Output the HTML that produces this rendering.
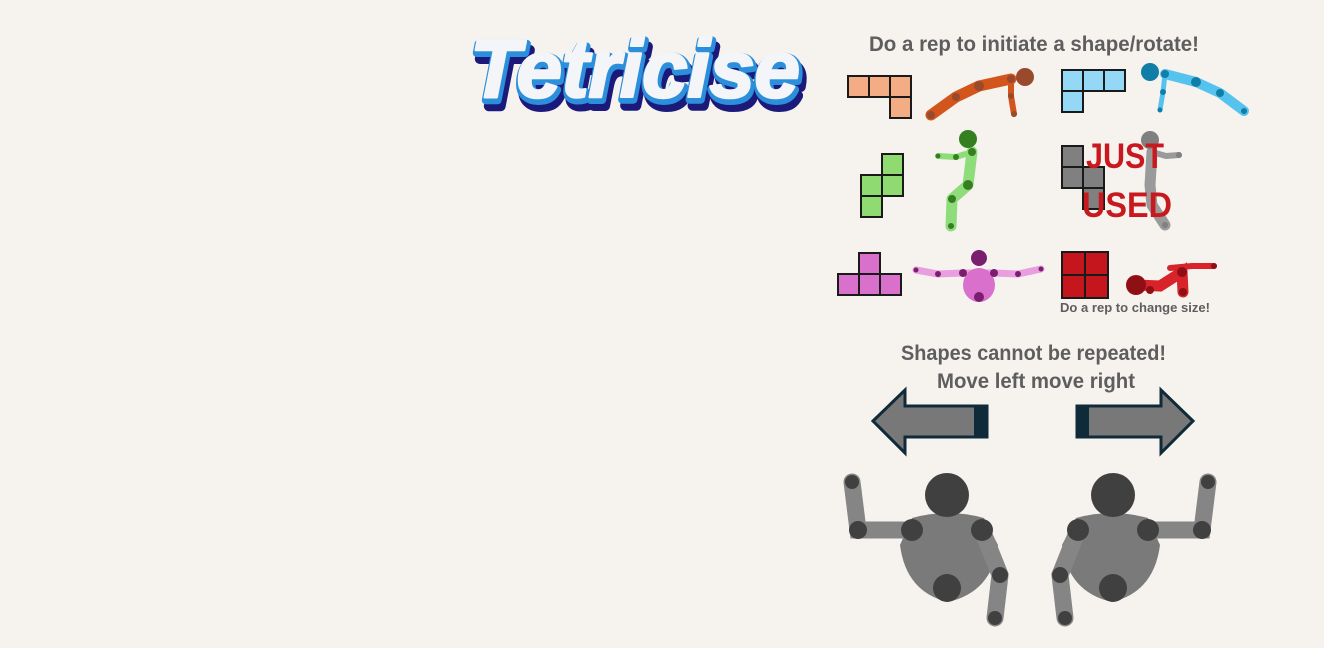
<!DOCTYPE html>
<html><head><meta charset="utf-8"><style>
html,body{margin:0;padding:0;background:#f6f3ef;}
svg{display:block;}
text{font-family:"Liberation Sans",sans-serif;}
</style></head><body>
<svg width="1324" height="648" viewBox="0 0 1324 648">
<rect width="1324" height="648" fill="#f6f3ef"/>
<g font-weight="bold" font-style="italic" font-size="82">
<text x="474" y="106" textLength="330" lengthAdjust="spacing" fill="#1b1a7a" stroke="#1b1a7a" stroke-width="10" stroke-linejoin="round">Tetricise</text>
<text x="471" y="100" textLength="330" lengthAdjust="spacing" fill="#2c8fdc" stroke="#2c8fdc" stroke-width="8" stroke-linejoin="round">Tetricise</text>
<text x="470" y="97" textLength="330" lengthAdjust="spacing" fill="#f4f5f8" stroke="#f4f5f8" stroke-width="2.5" stroke-linejoin="round">Tetricise</text>
</g>
<text x="869" y="51" textLength="330" lengthAdjust="spacingAndGlyphs" font-size="21" font-weight="bold" fill="#5e5e5e">Do a rep to initiate a shape/rotate!</text>
<g stroke="#1a1a1a" stroke-width="2">
<g fill="#f3ac84"><rect x="848" y="76" width="21" height="21"/><rect x="869" y="76" width="21" height="21"/><rect x="890" y="76" width="21" height="21"/><rect x="890" y="97" width="21" height="21"/></g>
<g fill="#95d8f5"><rect x="1062" y="70" width="21" height="21"/><rect x="1083" y="70" width="21" height="21"/><rect x="1104" y="70" width="21" height="21"/><rect x="1062" y="91" width="21" height="21"/></g>
<g fill="#8fdb72"><rect x="882" y="154" width="21" height="21"/><rect x="861" y="175" width="21" height="21"/><rect x="882" y="175" width="21" height="21"/><rect x="861" y="196" width="21" height="21"/></g>
<g fill="#808080"><rect x="1062" y="146" width="21" height="21"/><rect x="1062" y="167" width="21" height="21"/><rect x="1083" y="167" width="21" height="21"/><rect x="1083" y="188" width="21" height="21"/></g>
<g fill="#d970cc"><rect x="859" y="253" width="21" height="21"/><rect x="838" y="274" width="21" height="21"/><rect x="859" y="274" width="21" height="21"/><rect x="880" y="274" width="21" height="21"/></g>
<g fill="#c4161c"><rect x="1062" y="252" width="23" height="23"/><rect x="1085" y="252" width="23" height="23"/><rect x="1062" y="275" width="23" height="23"/><rect x="1085" y="275" width="23" height="23"/></g>
</g>
<g stroke-linecap="round" stroke-linejoin="round" fill="none">
<polyline points="931,115 956,97 979,86 1011,79" stroke="#d2561c" stroke-width="11"/>
<polyline points="1011,79 1011,96 1014,114" stroke="#d2561c" stroke-width="6"/>
<g fill="#9a4a2c" stroke="none"><circle cx="1025" cy="77" r="9"/><circle cx="931" cy="115" r="4"/><circle cx="956" cy="97" r="4"/><circle cx="979" cy="86" r="5"/><circle cx="1011" cy="79" r="4"/><circle cx="1011" cy="96" r="3"/><circle cx="1014" cy="114" r="3"/></g>
</g>
<g stroke-linecap="round" stroke-linejoin="round" fill="none">
<polyline points="1165,74 1196,82 1220,93 1244,111" stroke="#56c3ee" stroke-width="10"/>
<polyline points="1165,74 1163,92 1160,110" stroke="#56c3ee" stroke-width="5"/>
<g fill="#117ea8" stroke="none"><circle cx="1150" cy="72" r="9"/><circle cx="1165" cy="74" r="4"/><circle cx="1196" cy="82" r="5"/><circle cx="1220" cy="93" r="4"/><circle cx="1244" cy="111" r="3"/><circle cx="1163" cy="92" r="3"/><circle cx="1160" cy="110" r="2.5"/></g>
</g>
<g stroke-linecap="round" stroke-linejoin="round" fill="none">
<polyline points="972,152 968,185 952,199 951,226" stroke="#8fdc7a" stroke-width="11"/>
<polyline points="972,152 956,157 938,156" stroke="#8fdc7a" stroke-width="6"/>
<g fill="#357f20" stroke="none"><circle cx="968" cy="139" r="9"/><circle cx="972" cy="152" r="4"/><circle cx="968" cy="185" r="5"/><circle cx="952" cy="199" r="4"/><circle cx="951" cy="226" r="3"/><circle cx="956" cy="157" r="3"/><circle cx="938" cy="156" r="2.5"/></g>
</g>
<g stroke-linecap="round" stroke-linejoin="round" fill="none">
<polyline points="1152,152 1150,185 1152,205 1165,225" stroke="#9a9a9a" stroke-width="11"/>
<polyline points="1152,152 1166,156 1179,155" stroke="#9a9a9a" stroke-width="6"/>
<g fill="#808080" stroke="none"><circle cx="1150" cy="140" r="9"/><circle cx="1179" cy="155" r="3"/><circle cx="1165" cy="225" r="3"/></g>
</g>
<g fill="#c8191f" font-size="35" font-weight="bold">
<text x="1086" y="168" textLength="78" lengthAdjust="spacingAndGlyphs">JUST</text><text x="1082" y="217" textLength="90" lengthAdjust="spacingAndGlyphs">USED</text>
</g>
<g stroke-linecap="round" fill="none">
<polyline points="916,270 938,274 963,273 994,273 1018,274 1041,269" stroke="#e99ee0" stroke-width="7"/>
<ellipse cx="979" cy="285" rx="16" ry="17" fill="#d970cc" stroke="none"/>
<g fill="#7a1f6e" stroke="none"><circle cx="979" cy="258" r="8"/><circle cx="963" cy="273" r="4"/><circle cx="994" cy="273" r="4"/><circle cx="938" cy="274" r="3"/><circle cx="1018" cy="274" r="3"/><circle cx="916" cy="270" r="2.5"/><circle cx="1041" cy="269" r="2.5"/><circle cx="979" cy="297" r="5"/></g>
</g>
<g stroke-linecap="round" fill="none">
<polyline points="1136,285 1160,286 1182,272 1183,292" stroke="#d8232a" stroke-width="11"/>
<polyline points="1170,268 1192,266 1214,266" stroke="#d8232a" stroke-width="6"/>
<g fill="#8f1014" stroke="none"><circle cx="1136" cy="285" r="10"/><circle cx="1150" cy="290" r="4"/><circle cx="1182" cy="272" r="5"/><circle cx="1183" cy="292" r="4"/><circle cx="1214" cy="266" r="3"/></g>
</g>
<text x="1060" y="312" textLength="150" lengthAdjust="spacingAndGlyphs" font-size="13" font-weight="bold" fill="#5e5e5e">Do a rep to change size!</text>
<text x="901" y="360" textLength="265" lengthAdjust="spacingAndGlyphs" font-size="21" font-weight="bold" fill="#5e5e5e">Shapes cannot be repeated!</text>
<text x="937" y="388" textLength="198" lengthAdjust="spacingAndGlyphs" font-size="21" font-weight="bold" fill="#5e5e5e">Move left move right</text>
<g>
<polygon points="873,421 905,390 905,406 987,406 987,437 905,437 905,453" fill="#787878" stroke="#0f2a38" stroke-width="3"/>
<rect x="974" y="406" width="13" height="31" fill="#0f2a38"/>
</g>
<g>
<polygon points="1193,421 1161,390 1161,406 1077,406 1077,437 1161,437 1161,453" fill="#787878" stroke="#0f2a38" stroke-width="3"/>
<rect x="1077" y="406" width="12" height="31" fill="#0f2a38"/>
</g>
<g stroke-linecap="round" fill="none">
<path d="M912,518 Q948,508 984,518 L998,545 Q992,592 948,602 Q906,592 900,545 Z" fill="#7a7a7a"/>
<polyline points="912,530 858,530 852,482" stroke="#858585" stroke-width="17"/>
<polyline points="982,530 1000,575 995,618" stroke="#858585" stroke-width="17"/>
<g fill="#404040" stroke="none"><circle cx="947" cy="495" r="22"/><circle cx="912" cy="530" r="11"/><circle cx="982" cy="530" r="11"/><circle cx="858" cy="530" r="9"/><circle cx="852" cy="482" r="7"/><circle cx="1000" cy="575" r="8"/><circle cx="995" cy="618" r="7"/><circle cx="947" cy="588" r="14"/></g>
</g>
<g transform="translate(2060,0) scale(-1,1)" stroke-linecap="round" fill="none">
<path d="M912,518 Q948,508 984,518 L998,545 Q992,592 948,602 Q906,592 900,545 Z" fill="#7a7a7a"/>
<polyline points="912,530 858,530 852,482" stroke="#858585" stroke-width="17"/>
<polyline points="982,530 1000,575 995,618" stroke="#858585" stroke-width="17"/>
<g fill="#404040" stroke="none"><circle cx="947" cy="495" r="22"/><circle cx="912" cy="530" r="11"/><circle cx="982" cy="530" r="11"/><circle cx="858" cy="530" r="9"/><circle cx="852" cy="482" r="7"/><circle cx="1000" cy="575" r="8"/><circle cx="995" cy="618" r="7"/><circle cx="947" cy="588" r="14"/></g>
</g>
</svg>
</body></html>
